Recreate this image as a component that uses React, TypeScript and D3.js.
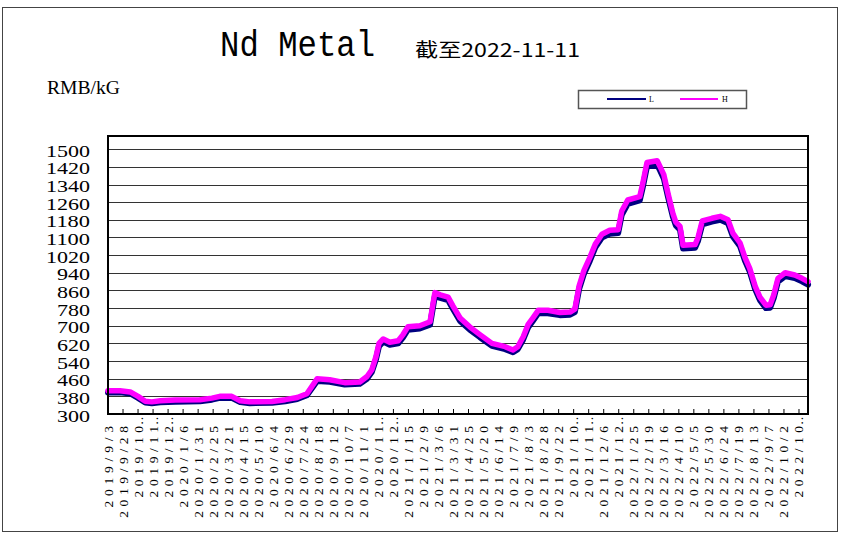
import React from 'react';
import * as d3 from 'd3';

const dates = [
  '2019-09-03','2019-09-23','2019-10-10','2019-10-23','2019-11-04','2019-11-15','2019-11-29','2019-12-24',
  '2020-02-03','2020-02-23','2020-03-07','2020-03-27','2020-04-10','2020-04-26','2020-06-02','2020-06-24',
  '2020-07-14','2020-07-30','2020-08-16','2020-09-06','2020-10-01','2020-10-26','2020-11-07','2020-11-15',
  '2020-11-22','2020-11-27','2020-12-04','2020-12-15','2020-12-29','2021-01-06','2021-01-14','2021-02-03',
  '2021-02-20','2021-02-28','2021-03-09','2021-03-22','2021-03-30','2021-04-11','2021-04-27','2021-05-14',
  '2021-06-03','2021-06-25','2021-07-08','2021-07-16','2021-07-25','2021-08-02','2021-08-10','2021-08-19',
  '2021-09-04','2021-09-24','2021-10-11','2021-10-19','2021-10-26','2021-11-03','2021-11-13','2021-11-22',
  '2021-12-03','2021-12-16','2021-12-30','2022-01-05','2022-01-15','2022-02-04','2022-02-09','2022-02-16',
  '2022-03-05','2022-03-10','2022-03-16','2022-03-23','2022-03-31','2022-04-05','2022-04-12','2022-04-17',
  '2022-05-07','2022-05-12','2022-05-19','2022-06-04','2022-06-18','2022-07-01','2022-07-09','2022-07-21',
  '2022-07-29','2022-08-06','2022-08-15','2022-08-23','2022-09-02','2022-09-09','2022-09-15','2022-09-22',
  '2022-10-04','2022-10-20','2022-11-01','2022-11-11'
];

const highValues = [
  405,405,400,380,358,355,360,363,365,372,
  380,380,360,355,357,365,375,392,460,455,
  442,445,470,500,560,620,640,625,632,660,
  695,700,718,850,840,830,790,735,695,660,
  620,605,590,605,650,705,735,770,770,760,
  762,775,880,950,1010,1070,1115,1133,1135,1220,
  1270,1285,1345,1440,1448,1420,1385,1300,1210,1170,
  1150,1065,1068,1100,1175,1187,1196,1180,1120,1075,
  1010,960,880,830,793,795,840,915,940,930,
  915,900
];

const lowValues = [
  398,398,393,373,352,349,353,356,358,365,
  373,373,354,349,351,358,368,385,450,446,
  434,437,460,490,548,607,628,614,620,647,
  682,688,705,835,826,816,777,722,683,648,
  609,594,580,594,638,692,722,757,757,748,
  750,762,866,935,995,1055,1100,1117,1120,1203,
  1253,1268,1327,1422,1430,1403,1368,1284,1195,1155,
  1135,1050,1053,1085,1160,1172,1180,1165,1105,1060,
  996,946,866,816,780,782,826,900,925,916,
  901,886
];

const yTickValues = [300,380,460,540,620,700,780,860,940,1020,1100,1180,1260,1340,1420,1500];

const xTickLabels = [
  '2019/9/3','2019/9/28','2019/10/23','2019/11/17','2019/12/12',
  '2020/1/6','2020/1/31','2020/2/25','2020/3/21','2020/4/15','2020/5/10','2020/6/4','2020/6/29',
  '2020/7/24','2020/8/18','2020/9/12','2020/10/7','2020/11/1','2020/11/26','2020/12/21',
  '2021/1/15','2021/2/9','2021/3/6','2021/3/31','2021/4/25','2021/5/20','2021/6/14','2021/7/9',
  '2021/8/3','2021/8/28','2021/9/22','2021/10/17','2021/11/11','2021/12/6','2021/12/31',
  '2022/1/25','2022/2/19','2022/3/16','2022/4/10','2022/5/5','2022/5/30','2022/6/24','2022/7/19',
  '2022/8/13','2022/9/7','2022/10/2','2022/10/27'
];

export default function App() {
  const parse = d3.timeParse('%Y-%m-%d');
  const parseLabel = d3.timeParse('%Y/%m/%d');
  const dateObjs = dates.map((d) => parse(d) as Date);

  const left = 108, right = 808, top = 136, bottom = 414;
  const x = d3.scaleTime()
    .domain([parse('2019-09-03') as Date, parse('2022-11-11') as Date])
    .range([left, right]);
  const y = d3.scaleLinear().domain([300, 1560]).range([bottom, top]);

  const line = d3.line<number>()
    .x((_, i) => x(dateObjs[i]))
    .y((v) => y(v));

  const serif = '"Liberation Serif", "DejaVu Serif", serif';

  return (
    <svg width={845} height={537} style={{ position: 'absolute', left: 0, top: 0, background: '#fff' }}>
      <rect x={0} y={0} width={845} height={537} fill="#fff" />
      <rect x={2.5} y={7.5} width={835} height={524} fill="none" stroke="#444" strokeWidth={1} />

      <text x={220} y={56} fontFamily='"Liberation Mono", monospace' fontSize={36}
        textLength={155} lengthAdjust="spacingAndGlyphs" fill="#000">Nd Metal</text>
      <text x={415} y={57} fontFamily='"Noto Sans CJK SC", sans-serif' fontSize={19}
        textLength={165} lengthAdjust="spacingAndGlyphs" fill="#000">截至2022-11-11</text>
      <text x={47} y={94} fontFamily={serif} fontSize={19}
        textLength={73} lengthAdjust="spacingAndGlyphs" fill="#000">RMB/kG</text>

      <g>
        <rect x={578.5} y={90.5} width={168} height={18} fill="#fff" stroke="#555" strokeWidth={1.5} />
        <line x1={607} x2={646} y1={99} y2={99} stroke="#000080" strokeWidth={2} />
        <text x={649} y={102} fontFamily={serif} fontSize={8} fill="#000">L</text>
        <line x1={680} x2={718} y1={99} y2={99} stroke="#ff00ff" strokeWidth={2} />
        <text x={722} y={102} fontFamily={serif} fontSize={8} fill="#000">H</text>
      </g>

      <rect x={left} y={top} width={right - left} height={bottom - top} fill="#fff" />
      {yTickValues.filter((v) => v !== 300).map((v) => (
        <line key={'g' + v} x1={left} x2={right} y1={Math.round(y(v)) + 0.5} y2={Math.round(y(v)) + 0.5}
          stroke="#333" strokeWidth={1} />
      ))}
      {yTickValues.map((v) => (
        <text key={'yl' + v} x={90} y={y(v) + 2} dy="0.35em" textAnchor="end" fontFamily={serif}
          fontSize={16} textLength={String(v).length * 11} lengthAdjust="spacingAndGlyphs" fill="#000">{v}</text>
      ))}

      {xTickLabels.map((lab) => {
        const px = x(parseLabel(lab) as Date);
        return (
          <line key={'t' + lab} x1={px} x2={px} y1={bottom} y2={bottom - 5} stroke="#000" strokeWidth={1} />
        );
      })}

      <path d={line(lowValues) || ''} fill="none" stroke="#000080" strokeWidth={6}
        strokeLinejoin="round" strokeLinecap="round" />
      <path d={line(highValues) || ''} fill="none" stroke="#ff00ff" strokeWidth={5.5}
        strokeLinejoin="round" strokeLinecap="round" />

      <rect x={left} y={top} width={right - left} height={bottom - top} fill="none" stroke="#000" strokeWidth={2} />

      {xTickLabels.map((lab) => {
        const px = x(parseLabel(lab) as Date);
        const truncated = lab.length >= 10;
        const shown = truncated ? lab.slice(0, 7) : lab;
        return (
          <g key={'xl' + lab}>
            <text transform={`translate(${px + 4.5},426) rotate(-90)`} textAnchor="end" fontFamily={serif}
              fontSize={13.5} textLength={shown.length * 10.2} lengthAdjust="spacing" fill="#000">{shown}</text>
            {truncated && (
              <text transform={`translate(${px + 4.5},425) rotate(-90)`} textAnchor="start" fontFamily={serif}
                fontSize={13} textLength={14} lengthAdjust="spacing" fill="#000">…</text>
            )}
          </g>
        );
      })}
    </svg>
  );
}
